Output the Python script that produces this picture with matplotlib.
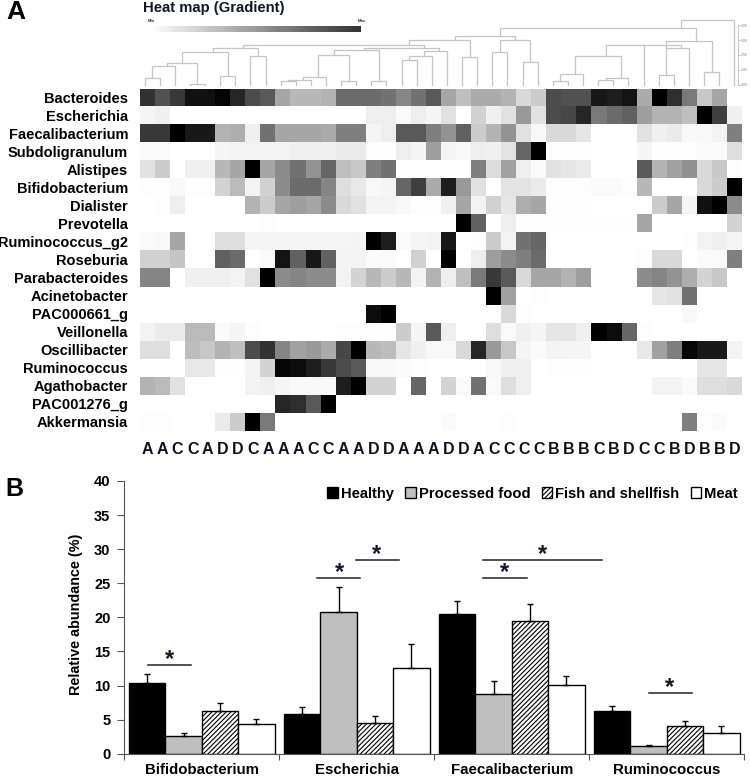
import matplotlib
matplotlib.use("Agg")
import matplotlib.pyplot as plt
import numpy as np

WIDTH, HEIGHT = 750, 776

genera = ["Bacteroides", "Escherichia", "Faecalibacterium", "Subdoligranulum", "Alistipes",
          "Bifidobacterium", "Dialister", "Prevotella", "Ruminococcus_g2", "Roseburia",
          "Parabacteroides", "Acinetobacter", "PAC000661_g", "Veillonella", "Oscillibacter",
          "Ruminococcus", "Agathobacter", "PAC001276_g", "Akkermansia"]
sample_groups = list("AACCADDCAAACCAADDAAADDACCCCBBBCBDCCBDBBD")

# heat map darkness per sample, 0 is white and 100 is black
bacteroides = [80,68,78,93,93, 98,85,70,65,35, 28,28,30,58,58, 58,55,47,55,65, 35,25,33,33,30, 15,20,70,68,68, 90,88,92,33,100, 82,52,22,35,0]
escherichia = [4,6,0,0,0, 0,0,0,0,0, 0,0,0,0,0, 7,7,2,7,4, 12,0,18,6,12, 40,12,70,72,85, 52,58,62,38,30, 30,25,100,75,6]
faecalibacterium = [78,78,100,90,90, 30,32,6,55,35, 35,35,33,50,50, 4,7,65,65,50, 42,62,20,30,42, 12,3,15,15,10, 0,0,0,12,6, 8,3,3,5,50]
subdoligranulum = [2,2,0,0,0, 4,5,5,5,5, 6,6,6,8,8, 1,1,7,4,38, 4,3,7,6,11, 60,100,1,1,1, 0,0,0,4,1, 1,1,2,2,13]
alistipes = [12,20,0,6,6, 28,35,100,35,45, 55,42,60,25,22, 50,55,0,0,0, 0,0,50,14,37, 7,2,12,10,8, 0,0,0,65,30, 37,43,15,22,1]
bifidobacterium = [1,1,3,1,1, 17,27,5,18,45, 58,58,48,13,9, 3,4,60,75,33, 88,40,12,0,11, 11,8,1,1,1, 2,2,1,28,0, 0,0,15,20,100]
dialister = [0,1,7,0,0, 0,0,30,20,35, 38,35,45,15,12, 5,5,3,1,1, 6,35,5,18,10, 32,35,1,1,1, 0,0,0,0,20, 35,4,93,100,45]
prevotella = [0,0,0,0,0, 0,0,0,1,0, 0,0,0,0,0, 0,0,0,0,0, 0,100,62,0,7, 1,1,1,1,1, 1,1,1,35,0, 0,0,0,0,17]
ruminococcus_g2 = [2,3,35,0,0, 13,13,4,4,4, 4,4,4,4,5, 100,88,2,4,5, 90,0,1,20,5, 55,60,0,0,0, 0,0,0,0,0, 0,1,5,6,4]
roseburia = [18,18,23,0,0, 62,58,0,2,92, 62,90,62,5,5, 2,2,0,18,0, 100,0,7,38,45, 50,58,0,0,0, 0,0,0,1,15, 15,0,2,2,50]
parabacteroides = [48,48,0,6,6, 6,5,12,100,45, 48,45,45,5,17, 28,20,28,5,30, 7,25,52,78,65, 15,35,35,30,38, 0,0,0,45,48, 42,32,17,22,0]
acinetobacter = [0,0,0,0,0, 0,0,0,0,0, 0,0,0,0,0, 0,0,0,0,0, 0,0,0,100,37, 0,1,0,0,0, 0,0,0,0,10, 12,55,0,0,0]
pac000661 = [0,0,0,0,0, 0,0,0,0,0, 0,0,0,0,0, 95,100,0,0,0, 0,0,0,0,15, 1,0,0,0,0, 0,0,0,0,0, 0,3,0,0,0]
veillonella = [5,8,8,27,27, 2,4,1,0,0, 0,0,0,1,1, 1,1,20,4,65, 7,0,0,13,2, 6,4,10,10,6, 100,95,60,1,0, 0,0,0,0,0]
oscillibacter = [13,13,0,26,22, 30,25,70,80,48, 37,40,33,72,100, 28,26,10,6,3, 3,15,85,40,22, 4,2,5,4,4, 0,0,0,9,37, 50,97,90,90,5]
ruminococcus = [0,0,0,9,9, 1,1,5,17,98, 95,88,78,70,65, 3,3,2,1,0, 0,0,0,3,6, 6,0,1,1,1, 0,0,0,0,0, 0,0,10,10,0]
agathobacter = [30,27,12,0,0, 0,0,5,6,4, 3,3,3,88,100, 17,17,0,60,0, 17,2,55,2,13, 7,0,0,0,0, 0,0,0,0,5, 5,2,13,13,15]
pac001276 = [0,0,0,0,0, 0,0,0,0,85, 82,65,100,0,0, 0,0,0,0,0, 0,0,0,0,0, 0,0,0,0,0, 0,0,0,0,0, 0,0,0,0,0]
akkermansia = [1,1,0,0,0, 8,20,100,52,0, 0,0,0,0,0, 0,0,0,0,0, 2,0,0,0,1, 0,0,0,0,0, 0,0,0,0,0, 0,50,1,2,0]

# dendrogram merges: left x, right x, height, left base, right base (x in leaf positions)
LEAF = -0.1
merges = [
    (0, 1, 0.44, LEAF, LEAF), (0.5, 2, 1.27, 0.44, LEAF), (3, 4, 0.02, LEAF, LEAF),
    (1.5, 3.5, 1.43, 1.27, 0.02), (5, 6, 0.57, LEAF, LEAF), (2.5, 5.5, 2.17, 1.43, 0.57),
    (7, 8, 1.94, LEAF, LEAF), (4.5, 7.5, 2.48, 2.17, 1.94),
    (9, 10, 0.26, LEAF, LEAF), (9.5, 11, 0.33, 0.26, LEAF), (10.5, 12, 0.49, 0.33, LEAF),
    (13, 14, 0.22, LEAF, LEAF), (11.5, 13.5, 1.97, 0.49, 0.22), (15, 16, 0.22, LEAF, LEAF),
    (12.5, 15.5, 2.31, 1.97, 0.22), (17, 18, 1.65, LEAF, LEAF), (17.5, 19, 1.94, 1.65, LEAF),
    (18.5, 20, 2.24, 1.94, LEAF), (14.5, 19.5, 2.44, 2.31, 2.24), (6.5, 18.5, 2.68, 2.48, 2.44),
    (21, 22, 1.87, LEAF, LEAF), (17.5, 21.5, 3.02, 2.68, 1.87), (23, 24, 2.17, LEAF, LEAF),
    (25, 26, 1.5, LEAF, LEAF), (23.5, 25.5, 3.02, 2.17, 1.5), (20.5, 24.5, 3.27, 3.02, 3.02),
    (23.5, 36.5, 3.83, 3.27, 2.95),
    (27, 28, 0.22, LEAF, LEAF), (27.5, 29, 0.73, 0.22, LEAF), (30, 31, 0.28, LEAF, LEAF),
    (30.5, 32, 0.44, 0.28, LEAF), (28.5, 31.5, 1.94, 0.73, 0.44), (30.5, 33, 2.66, 1.94, LEAF),
    (34, 35, 0.66, LEAF, LEAF), (34.5, 36, 2.44, 0.66, LEAF), (32.8, 35.5, 2.68, 2.66, 2.44),
    (37, 38, 0.86, LEAF, LEAF), (34.5, 37.5, 2.95, 2.44, 0.86), (35.5, 39, 4.35, 3.83, LEAF),
]
dendro_ticks = [0, 1, 2, 3, 4]

# panel B
taxa = ["Bifidobacterium", "Escherichia", "Faecalibacterium", "Ruminococcus"]
diets = ["Healthy", "Processed food", "Fish and shellfish", "Meat"]
healthy = [10.4, 5.8, 20.5, 6.3]
processed = [2.6, 20.8, 8.75, 1.1]
fish = [6.3, 4.45, 19.5, 4.1]
meat = [4.3, 12.5, 10.1, 3.1]
healthy_err = [1.3, 1.0, 1.95, 0.7]
processed_err = [0.5, 3.65, 1.95, 0.2]
fish_err = [1.15, 1.05, 2.5, 0.7]
meat_err = [0.85, 3.55, 1.35, 1.0]
# significance bars: start, end, height, star x
sig_bars = [(-0.35, -0.07, 13.05, -0.21), (0.74, 1.02, 25.7, 0.89), (0.995, 1.27, 28.4, 1.13),
            (1.815, 2.585, 28.4, 2.2), (1.815, 2.095, 25.7, 1.95), (2.885, 3.165, 8.9, 3.02)]


def add_axes(fig, left, top, right, bottom):
    """Axes placed with pixel edges measured from the top left corner."""
    return fig.add_axes([left / WIDTH, 1 - bottom / HEIGHT, (right - left) / WIDTH, (bottom - top) / HEIGHT])


def draw_heatmap(fig):
    rows = [bacteroides, escherichia, faecalibacterium, subdoligranulum, alistipes, bifidobacterium,
            dialister, prevotella, ruminococcus_g2, roseburia, parabacteroides, acinetobacter, pac000661,
            veillonella, oscillibacter, ruminococcus, agathobacter, pac001276, akkermansia]
    ax = add_axes(fig, 140, 88.5, 742, 430.7)
    ax.imshow(np.array(rows), cmap="gray_r", vmin=0, vmax=100, aspect="auto", interpolation="nearest")
    ax.set_yticks(range(len(genera)), genera, fontsize=10.5, fontweight="bold")
    ax.set_xticks(range(len(sample_groups)), sample_groups, fontsize=11.5, fontweight="bold")
    ax.tick_params(length=0, pad=8.5, axis="y")
    ax.tick_params(length=0, pad=8, axis="x", colors="#101020")
    for spine in ax.spines.values():
        spine.set_visible(False)


def draw_dendrogram(fig):
    ax = add_axes(fig, 137, 15, 741.8, 86)
    for xl, xr, top, base_l, base_r in merges:
        ax.plot([xl, xl, xr, xr], [base_l, top, top, base_r], color="#c4c4c4", lw=0.9, solid_joinstyle="miter")
    ax.set_xlim(-0.5, 39.5)
    ax.set_ylim(LEAF, 4.69)
    ax.patch.set_visible(False)
    ax.set_xticks([])
    ax.yaxis.tick_right()
    ax.spines["right"].set_position(("data", 39.25))
    ax.spines["right"].set_bounds(0, 4)
    ax.spines["right"].set_color("#bdbdbd")
    ax.spines["right"].set_linewidth(0.6)
    ax.set_yticks(dendro_ticks, ["{:.2f}".format(t) for t in dendro_ticks], fontsize=2.5, color="#888888")
    ax.tick_params(axis="y", length=1.5, width=0.5, pad=0.5, color="#999999")
    for side in ["left", "top", "bottom"]:
        ax.spines[side].set_visible(False)

    # gradient legend
    bar = add_axes(fig, 150, 26, 361, 32.5)
    bar.imshow(np.linspace(0, 80, 256).reshape(1, -1), cmap="gray_r", vmin=0, vmax=100, aspect="auto")
    bar.axis("off")
    fig.text(148 / WIDTH, 1 - 21 / HEIGHT, "Min", fontsize=3, fontweight="bold", va="center", color="#333333")
    fig.text(358 / WIDTH, 1 - 21.5 / HEIGHT, "Max", fontsize=3, fontweight="bold", va="center", color="#333333")
    fig.text(143 / WIDTH, 1 - 8 / HEIGHT, "Heat map (Gradient)", fontsize=10.7, fontweight="bold",
             va="center", color="#101828")


def draw_bars(fig):
    ax = add_axes(fig, 124.3, 481, 744.3, 753.7)
    x = np.arange(len(taxa))
    width = 0.235
    series = [(healthy, healthy_err, "black", None), (processed, processed_err, "#bfbfbf", None),
              (fish, fish_err, "white", "///////"), (meat, meat_err, "white", None)]
    for i, (values, err, color, hatch) in enumerate(series):
        ax.bar(x + (i - 1.5) * width, values, width, color=color, edgecolor="black", linewidth=1, hatch=hatch,
               label=diets[i], yerr=[np.zeros(len(err)), err],
               error_kw=dict(ecolor="black", elinewidth=1, capsize=2.5, capthick=1))

    ax.set_xlim(-0.5, 3.5)
    ax.set_ylim(0, 40)
    ax.set_xticks(np.arange(-0.5, 3.6), [""] * 5)
    ax.set_xticks(x, taxa, minor=True, fontsize=10.8, fontweight="bold")
    ax.tick_params(axis="x", which="minor", length=0, pad=7)
    ax.tick_params(axis="x", which="major", length=4, width=0.8, color="#555555", direction="out")
    ax.set_yticks(range(0, 41, 5))
    ax.tick_params(axis="y", length=5, width=0.8, color="#555555", labelsize=10.5, pad=5)
    for label in ax.get_yticklabels():
        label.set_fontweight("bold")
    ax.set_ylabel("Relative abundance (%)", fontsize=10.4, fontweight="bold", labelpad=8, y=0.512)
    ax.spines["top"].set_visible(False)
    ax.spines["right"].set_visible(False)
    ax.spines["left"].set_color("#555555")
    ax.spines["bottom"].set_color("#555555")

    for start, end, y, star_x in sig_bars:
        ax.plot([start, end], [y, y], color="#222222", lw=1.1)
        ax.text(star_x, y + 1.2, "*", fontsize=17, fontweight="bold", ha="center", va="center_baseline", color="#10182a")

    ax.legend(loc="upper right", bbox_to_anchor=(0.997, 0.995), ncol=4, frameon=False, prop=dict(size=10.6, weight="bold"),
              handlelength=0.7, handleheight=0.7, handletextpad=0.2, columnspacing=0.8, borderaxespad=0.2, borderpad=0.1)


def main():
    plt.rcParams["font.family"] = ["Liberation Sans", "DejaVu Sans"]
    plt.rcParams["hatch.linewidth"] = 0.8
    fig = plt.figure(figsize=(WIDTH / 100, HEIGHT / 100), dpi=100)
    draw_heatmap(fig)
    draw_dendrogram(fig)
    draw_bars(fig)
    fig.text(6 / WIDTH, 1 - 12 / HEIGHT, "A", fontsize=19, fontweight="bold", va="center")
    fig.text(5 / WIDTH, 1 - 488.5 / HEIGHT, "B", fontsize=18, fontweight="bold", va="center")
    fig.savefig("out.png", dpi=100)


if __name__ == "__main__":
    main()
